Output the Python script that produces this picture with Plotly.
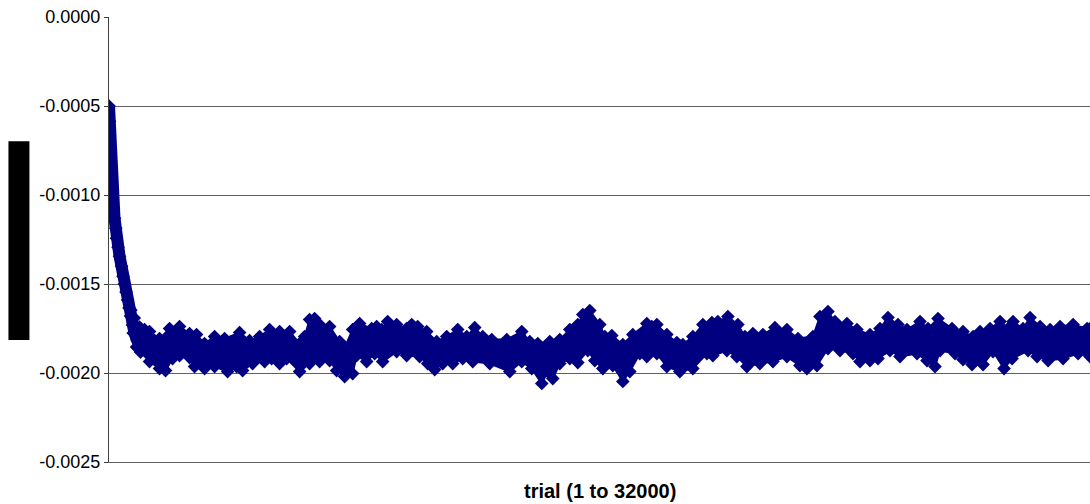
import plotly.graph_objects as go

# Initial transient: estimate falling from the start value (trial number, value)
start_trial = [1, 16, 16, 16, 33, 49, 82, 108, 147, 179, 222, 245, 294, 343, 408,
               457, 506, 555, 604, 653, 702, 767, 832, 914, 996]
start_value = [-0.000500, -0.0005856, -0.0006642, -0.0007484, -0.0008157, -0.0008887,
               -0.0009561, -0.0010122, -0.0010740, -0.0011301, -0.0011863, -0.0012424,
               -0.0012929, -0.0013435, -0.0013996, -0.0014558, -0.0015007, -0.0015456,
               -0.0015905, -0.0016354, -0.0016803, -0.0017309, -0.0017758, -0.0018151,
               -0.0018432]

# Upper envelope of the settled estimate (trial number, value)
upper_trial = [712, 823, 996,
               1159, 1322, 1648, 1975, 2301, 2628, 2856, 3117, 3444, 3770,
               4260, 4586, 4912, 5239, 5565, 5892, 6218, 6381, 6544, 6708,
               6871, 7197, 7524, 7687, 7948, 8176, 8568, 8731, 8894, 9090,
               9384, 9710, 9874, 10069, 10363, 10690, 11016, 11375, 11669, 11930,
               12191, 12485, 12975, 13464, 13725, 13986, 14378, 14704, 15031, 15292,
               15455, 15683, 16010, 16173, 16402, 16761, 17087, 17544, 17707, 17871,
               18197, 18523, 18719, 19045, 19372, 19666, 19861, 20188, 20514, 20743,
               21004, 21330, 21722, 22114, 22473, 22962, 23191, 23452, 23680, 24072,
               24398, 24823, 25149, 25410, 25737, 26030, 26455, 26716, 27042, 27499,
               27858, 28185, 28413, 28740, 29066, 29327, 29490, 29817, 30045, 30372,
               30698, 31024, 31449, 31906, 32000]
upper_value = [-0.0016467, -0.0016916, -0.0017421,
               -0.0017561, -0.0017674, -0.0018067, -0.0017505, -0.0017393, -0.0017786,
               -0.0017842, -0.0018347, -0.0017954, -0.0018067, -0.0017730, -0.0018179,
               -0.0017954, -0.0017561, -0.0017674, -0.0017674, -0.0018347, -0.0017954,
               -0.0017000, -0.0016944, -0.0017281, -0.0017393, -0.0018235, -0.0018572,
               -0.0017561, -0.0017224, -0.0017505, -0.0017393, -0.0017561, -0.0017112,
               -0.0017281, -0.0017505, -0.0017281, -0.0017393, -0.0017674, -0.0018235,
               -0.0017954, -0.0017561, -0.0017954, -0.0017449, -0.0017954, -0.0018123,
               -0.0018123, -0.0017674, -0.0018235, -0.0018347, -0.0018235, -0.0018123,
               -0.0017561, -0.0017281, -0.0016719, -0.0016495, -0.0017281, -0.0017954,
               -0.0017898, -0.0018403, -0.0017842, -0.0017224, -0.0017393, -0.0017281,
               -0.0017842, -0.0018291, -0.0018403, -0.0017954, -0.0017281, -0.0017168,
               -0.0017112, -0.0016831, -0.0017281, -0.0017954, -0.0017786, -0.0017842,
               -0.0017449, -0.0017561, -0.0018067, -0.0017954, -0.0016831, -0.0016551,
               -0.0017112, -0.0017224, -0.0017561, -0.0017842, -0.0017505, -0.0016888,
               -0.0017281, -0.0017561, -0.0017112, -0.0017505, -0.0016944, -0.0017505,
               -0.0017674, -0.0017954, -0.0017674, -0.0017505, -0.0017112, -0.0017505,
               -0.0017112, -0.0017505, -0.0016888, -0.0017393, -0.0017561, -0.0017393,
               -0.0017281, -0.0017505, -0.0017505]

# Lower envelope of the settled estimate (trial number, value)
lower_trial = [790, 898, 1028,
               1322, 1648, 1844, 2073, 2301, 2628, 2791, 3117, 3444, 3868,
               4162, 4358, 4684, 5076, 5304, 5565, 5794, 6218, 6544, 6871,
               7197, 7426, 7687, 7948, 8078, 8405, 8666, 8927, 9384, 9710,
               10134, 10395, 10624, 10885, 11212, 11538, 11865, 12420, 13073, 13464,
               13790, 14117, 14312, 14476, 14704, 15031, 15292, 15618, 15847, 16108,
               16434, 16761, 16989, 17315, 17544, 17871, 18197, 18621, 19045, 19502,
               19698, 20155, 20481, 20808, 21232, 21657, 22114, 22538, 22767, 23093,
               23452, 23844, 24268, 24497, 24823, 25084, 25476, 25802, 26357, 26683,
               26944, 27107, 27597, 27858, 28152, 28511, 28838, 29197, 29458, 29980,
               30274, 30633, 31122, 31612, 32000]
lower_value = [-0.0017758, -0.0018544, -0.0018825,
               -0.0019358, -0.0019751, -0.0019863, -0.0019189, -0.0019021, -0.0019133,
               -0.0019639, -0.0019751, -0.0019639, -0.0019919, -0.0019639, -0.0019863,
               -0.0019470, -0.0019358, -0.0019189, -0.0019470, -0.0019189, -0.0019919,
               -0.0019470, -0.0019358, -0.0019302, -0.0019863, -0.0020200, -0.0020031,
               -0.0019021, -0.0019358, -0.0018909, -0.0019358, -0.0018796, -0.0019021,
               -0.0019077, -0.0019470, -0.0019807, -0.0019470, -0.0019470, -0.0019189,
               -0.0019358, -0.0019470, -0.0019919, -0.0019358, -0.0019751, -0.0020592,
               -0.0019919, -0.0020312, -0.0019470, -0.0019189, -0.0019414, -0.0018740,
               -0.0019302, -0.0019751, -0.0019582, -0.0020480, -0.0019919, -0.0018909,
               -0.0019077, -0.0018909, -0.0019639, -0.0019919, -0.0019751, -0.0018909,
               -0.0019021, -0.0018740, -0.0019077, -0.0019639, -0.0019470, -0.0019358,
               -0.0019077, -0.0019582, -0.0019751, -0.0019582, -0.0018628, -0.0018740,
               -0.0018909, -0.0019358, -0.0019302, -0.0019189, -0.0018740, -0.0019077,
               -0.0018909, -0.0019302, -0.0019639, -0.0018740, -0.0018909, -0.0019246,
               -0.0019526, -0.0019526, -0.0018796, -0.0019751, -0.0019189, -0.0018740,
               -0.0019077, -0.0019302, -0.0019189, -0.0018909, -0.0019077]

y_ticks = [0.0, -0.0005, -0.0010, -0.0015, -0.0020, -0.0025]
y_tick_text = [f"{v:.4f}" for v in y_ticks]
x_title = "trial (1 to 32000)"

NAVY = "#000080"
GRID = "#606060"
FONT = "Liberation Sans, Arial, sans-serif"
DIAMOND = dict(symbol="diamond", size=10.5, color=NAVY, line=dict(width=0))

fig = go.Figure()
# Steep initial descent: a dense run of points drawn as one thick stroke
fig.add_trace(go.Scatter(
    x=start_trial, y=start_value, mode="lines+markers",
    marker=DIAMOND, line=dict(width=12, color=NAVY),
    showlegend=False, hoverinfo="skip",
))
# Upper edge of the settled band
fig.add_trace(go.Scatter(
    x=upper_trial, y=upper_value, mode="lines+markers",
    marker=DIAMOND, line=dict(width=2, color=NAVY),
    showlegend=False, hoverinfo="skip",
))
# Lower edge, filled up to the upper edge
fig.add_trace(go.Scatter(
    x=lower_trial, y=lower_value, mode="lines+markers",
    marker=DIAMOND, line=dict(width=2, color=NAVY),
    fill="tonexty", fillcolor=NAVY,
    showlegend=False, hoverinfo="skip",
))

fig.update_layout(
    width=1090, height=504,
    margin=dict(l=109, r=0, t=17, b=42),
    paper_bgcolor="white", plot_bgcolor="white",
    font=dict(family=FONT, color="black"),
    xaxis=dict(
        range=[0, 32000], showticklabels=False, ticks="",
        showgrid=False, zeroline=False,
        showline=True, linecolor=GRID, linewidth=1,
    ),
    yaxis=dict(
        range=[-0.0025, 0.0], tickvals=y_ticks, ticktext=y_tick_text,
        tickfont=dict(size=18, family=FONT, color="black"),
        ticks="outside", ticklen=4, tickcolor="#404040",
        showgrid=True, gridcolor=GRID, gridwidth=1,
        zeroline=False, showline=True, linecolor="#404040", linewidth=1,
    ),
    annotations=[dict(
        text="<b>" + x_title + "</b>", xref="paper", yref="paper",
        x=0.5, y=0, xanchor="center", yanchor="middle", yshift=-29,
        showarrow=False, font=dict(size=20, family=FONT, color="black"),
    )],
    shapes=[dict(
        type="rect", xref="paper", yref="paper",
        x0=-0.1025, x1=-0.0811, y0=0.274, y1=0.721,
        fillcolor="black", line=dict(width=0),
    )],
)

fig.write_html("out.html")
